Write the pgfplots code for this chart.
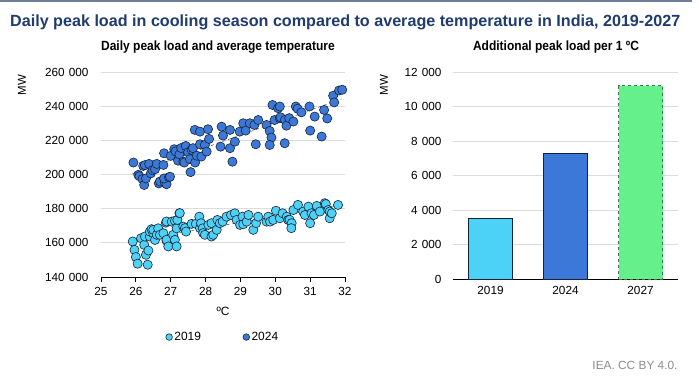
\documentclass[border=0pt]{standalone}
\usepackage{pgfplots}
\pgfplotsset{compat=1.18}
\usepackage{fontspec}
\setmainfont{Liberation Sans}
\newfontfamily\narrowfont{Liberation Sans}[FakeStretch=0.9]
\definecolor{titleblue}{HTML}{1F3B6F}
\definecolor{c2019}{HTML}{4DD2F7}
\definecolor{c2024}{HTML}{3C78D8}
\definecolor{c2027}{HTML}{66F08C}
\definecolor{d2027}{HTML}{2E7D4A}
\definecolor{gridgray}{HTML}{DCDCDC}
\definecolor{edge}{HTML}{15233A}
\definecolor{topline}{HTML}{6F7F99}
\definecolor{foot}{HTML}{8C8C8C}

\pgfplotstableread{
T L
25.93 207000
26.07 199800
26.10 199000
26.21 205000
26.26 205500
26.19 197300
26.24 193900
26.29 197700
26.38 206200
26.43 200700
26.48 202500
26.55 203100
26.60 206200
26.66 194800
26.69 195900
26.79 205600
26.81 212400
26.83 195300
26.88 194300
26.81 197700
26.95 198400
26.98 198700
27.00 210900
27.10 214800
27.14 213500
27.21 208100
27.25 211800
27.30 215500
27.36 207500
27.39 207000
27.43 216700
27.50 213000
27.55 209000
27.57 201400
27.60 214400
27.64 215400
27.69 226100
27.70 207000
27.75 211000
27.84 225100
27.84 217700
27.88 210500
27.98 217300
28.03 213400
28.07 226500
28.10 220800
28.43 216300
28.46 228000
28.50 222800
28.70 226100
28.70 215400
28.77 207500
28.84 219200
28.98 225100
29.08 230000
29.15 225700
29.27 230000
29.40 229000
29.44 217700
29.51 231900
29.75 229000
29.84 225500
29.89 221600
29.84 217300
29.92 240700
29.98 231900
30.08 238800
30.13 239800
30.13 232900
30.15 233500
30.27 218300
30.28 232000
30.32 228600
30.40 233000
30.52 231000
30.59 239800
30.64 238500
30.75 236400
30.98 239800
31.00 225700
31.13 233900
31.33 222200
31.40 237800
31.49 232800
31.66 246100
31.69 242200
31.83 249200
31.92 249600
}\dataB

\pgfplotstableread{
T L
25.91 160800
25.96 155900
26.00 151700
26.05 147800
26.15 162700
26.24 158800
26.26 163700
26.29 153000
26.34 147200
26.36 155500
26.40 163700
26.40 166600
26.45 168000
26.50 165600
26.50 167600
26.55 161700
26.60 164700
26.64 168500
26.69 164700
26.79 165600
26.86 171800
26.88 161200
26.88 172500
26.88 161800
26.93 157900
27.03 172400
27.07 164700
27.12 161700
27.12 172900
27.17 168500
27.17 157900
27.19 173400
27.25 177300
27.26 177400
27.36 169500
27.41 168600
27.44 166600
27.60 171100
27.72 171100
27.82 175300
27.84 168600
27.87 171500
27.92 168500
27.93 165700
27.98 164700
28.08 170500
28.17 171500
28.17 163700
28.22 164700
28.32 167600
28.34 173400
28.41 171500
28.49 172400
28.60 175300
28.73 176300
28.84 177300
28.89 173400
28.99 170500
29.06 175300
29.08 170900
29.18 172400
29.23 176300
29.37 167600
29.45 171500
29.51 175300
29.75 172400
29.80 175300
29.85 172400
29.94 173400
30.02 178800
30.13 174400
30.21 177300
30.33 175300
30.37 173400
30.41 173500
30.47 171500
30.46 168600
30.52 179200
30.65 182200
30.80 178300
30.85 176300
30.95 181200
31.00 171500
31.04 177300
31.11 176300
31.19 181600
31.28 178300
31.42 183200
31.45 182700
31.52 179200
31.56 174400
31.56 178300
31.62 177300
31.80 182200
}\dataA

\begin{document}
\begin{tikzpicture}[x=1bp,y=1bp]
\path[use as bounding box] (0,0) rectangle (698,379);
\draw[topline, line width=1.2bp] (0,378) -- (692,378);
\node[anchor=west, inner sep=0, text=titleblue, font=\fontsize{16.2}{19}\selectfont\bfseries] at (10,356.5) {Daily peak load in cooling season compared to average temperature in India, 2019-2027};
\node[font=\narrowfont\bfseries\fontsize{13.4}{15}\selectfont] at (218,332) {Daily peak load and average temperature};
\node[font=\narrowfont\bfseries\fontsize{13.4}{15}\selectfont] at (556,332) {Additional peak load per 1 ºC};
\node[rotate=90, font=\fontsize{11.5}{13}\selectfont] at (22,294) {MW};
\node[rotate=90, font=\fontsize{11.5}{13}\selectfont] at (384,294) {MW};
\node[font=\fontsize{12}{14}\selectfont] at (223,68) {ºC};
\node[anchor=east, text=foot, font=\fontsize{11.9}{14}\selectfont] at (681,14) {IEA. CC BY 4.0.};

\begin{axis}[
  at={(101bp,102bp)}, anchor=south west,
  width=244bp, height=205bp, scale only axis,
  xmin=25, xmax=32, ymin=140000, ymax=260000,
  xtick={25,26,...,32},
  ytick={140000,160000,...,260000},
  scaled y ticks=false,
  /pgf/number format/.cd, fixed, 1000 sep={\hspace{4.2bp}}, assume math mode=true, /pgfplots/.cd,
  ticklabel style={font=\fontsize{11.8}{14}\selectfont},
  yticklabel style={xshift=-4bp},
  xticklabel style={yshift=-2bp},
  ymajorgrids, grid style={gridgray, line width=0.8bp},
  axis x line*=bottom, axis y line*=left,
  y axis line style={draw=none},
  ytick style={draw=none},
  xtick style={black, line width=0.8bp},
  x axis line style={black, line width=0.8bp},
  tick align=outside, major tick length=5bp,
  clip=false,
  legend style={at={(0.5,-0.293)}, anchor=center, draw=none, fill=none,
    legend columns=2, font=\fontsize{12}{14}\selectfont,
    /tikz/every even column/.append style={column sep=40bp}},
  legend image code/.code={\draw[#1] plot coordinates {(0bp,0bp)};},
]
\addplot[only marks, mark=*, mark size=4.6bp, mark options={fill=c2019, draw=edge, line width=0.6bp}, legend image post style={mark size=3.3bp}] table[x=T,y=L] {\dataA};
\addlegendentry{2019}
\addplot[only marks, mark=*, mark size=4.6bp, mark options={fill=c2024, draw=edge, line width=0.6bp}, legend image post style={mark size=3.3bp}] table[x=T,y=L] {\dataB};
\addlegendentry{2024}
\addplot[forget plot, dashed, black!70, line width=0.5bp] coordinates {(25.9,161200) (31.8,181800)};
\addplot[forget plot, dashed, black!70, line width=0.5bp] coordinates {(25.9,200400) (31.9,244200)};
\end{axis}

\begin{axis}[
  at={(453bp,100bp)}, anchor=south west,
  width=225bp, height=207bp, scale only axis,
  xmin=-0.5, xmax=2.5, ymin=0, ymax=12000,
  xtick={0,1,2}, xticklabels={2019,2024,2027},
  ytick={0,2000,...,12000},
  scaled y ticks=false,
  /pgf/number format/.cd, fixed, 1000 sep={\hspace{4.2bp}}, assume math mode=true, /pgfplots/.cd,
  ticklabel style={font=\fontsize{11.8}{14}\selectfont},
  ymajorgrids, grid style={gridgray, line width=0.8bp},
  axis x line*=bottom, axis y line*=left,
  y axis line style={draw=none},
  x axis line style={black, line width=0.8bp},
  major tick length=0pt,
  yticklabel style={xshift=-8bp},
  xticklabel style={yshift=-4bp},
]
\addplot[ybar, bar width=44bp, bar shift=0pt, fill=c2019, draw=edge, line width=0.6bp] coordinates {(0,3500)};
\addplot[ybar, bar width=44bp, bar shift=0pt, fill=c2024, draw=edge, line width=0.6bp] coordinates {(1,7300)};
\addplot[ybar, bar width=44bp, bar shift=0pt, fill=c2027, draw=d2027, dashed, line width=0.6bp] coordinates {(2,11200)};
\end{axis}
\end{tikzpicture}
\end{document}
